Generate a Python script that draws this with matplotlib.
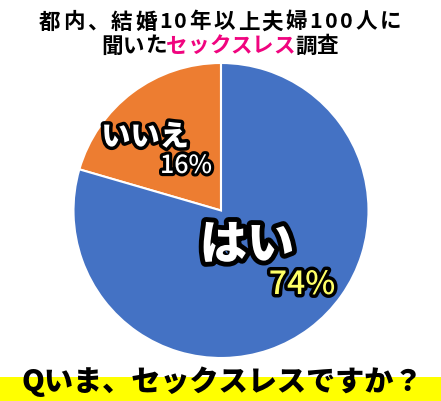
import matplotlib
matplotlib.use("Agg")
import matplotlib.pyplot as plt
import matplotlib.patheffects as pe

plt.rcParams['font.family'] = ['Noto Sans CJK JP', 'DejaVu Sans']

# data
labels = ["いいえ", "はい"]
sizes = [20.5, 79.5]          # slice sizes as drawn
pct_labels = ["16%", "74%"]   # printed percentages
colors = ["#ED7D31", "#4472C4"]

title_line1 = [("都内、結婚10年以上夫婦100人に", "black")]
title_line2 = [("聞いた", "black"), ("セックスレス", "#F0047F"), ("調査", "black")]
question = "Qいま、セックスレスですか？"

W, H = 441, 401
fig = plt.figure(figsize=(W / 100, H / 100), dpi=100)
fig.patch.set_facecolor("white")


def px(x, y):
    # pixel coords from top-left -> figure fraction
    return x / W, 1 - y / H


# pie
cx, cy, r = 221, 210.5, 147.5
ax = fig.add_axes([(cx - r) / W, (H - cy - r) / H, 2 * r / W, 2 * r / H])
ax.pie(sizes, colors=colors, startangle=90, counterclock=True,
       wedgeprops=dict(edgecolor="white", linewidth=1.5))
ax.set_xlim(-1, 1)
ax.set_ylim(-1, 1)
ax.axis("off")

renderer = fig.canvas.get_renderer()


def draw_pieces(pieces, x_center, y, size, weight="medium", tracking=0.0):
    # draws coloured pieces char by char, centred on x_center
    chars = [(c, col) for s, col in pieces for c in s]
    widths = []
    for c, col in chars:
        t = fig.text(0, 0, c, fontsize=size, fontweight=weight)
        widths.append(t.get_window_extent(renderer).width)
        t.remove()
    total = sum(widths) + tracking * (len(chars) - 1)
    x = x_center - total / 2
    for (c, col), w in zip(chars, widths):
        fig.text(*px(x, y), c, fontsize=size, fontweight=weight, color=col,
                 ha="left", va="center")
        x += w + tracking


draw_pieces(title_line1, 220, 22, 15.5, weight="bold", tracking=2.5)
draw_pieces(title_line2, 220, 46, 15.5, weight="bold")

# slice labels
stroke = lambda w: [pe.withStroke(linewidth=w, foreground="black")]
fig.text(*px(145, 137), labels[0], fontsize=21, fontweight="black", color="white",
         ha="center", va="center", path_effects=stroke(5))
fig.text(*px(186, 166), pct_labels[0], fontsize=18, fontweight="medium", color="white",
         ha="center", va="center", path_effects=stroke(4.5))
fig.text(*px(247, 245), labels[1], fontsize=34, fontweight="black", color="white",
         ha="center", va="center", path_effects=stroke(7))
fig.text(*px(302, 285), pct_labels[1], fontsize=23, fontweight="medium", color="#FFFF66",
         ha="center", va="center", path_effects=stroke(5))

# bottom band
band = fig.add_axes([0, 0, 1, 24 / H])
band.set_facecolor("#FFFF00")
band.set_xticks([])
band.set_yticks([])
for s in band.spines.values():
    s.set_visible(False)
fig.text(*px(222, 382), question, fontsize=21, fontweight="black", color="black",
         ha="center", va="center")

fig.savefig("out.png", dpi=100, facecolor="white")
